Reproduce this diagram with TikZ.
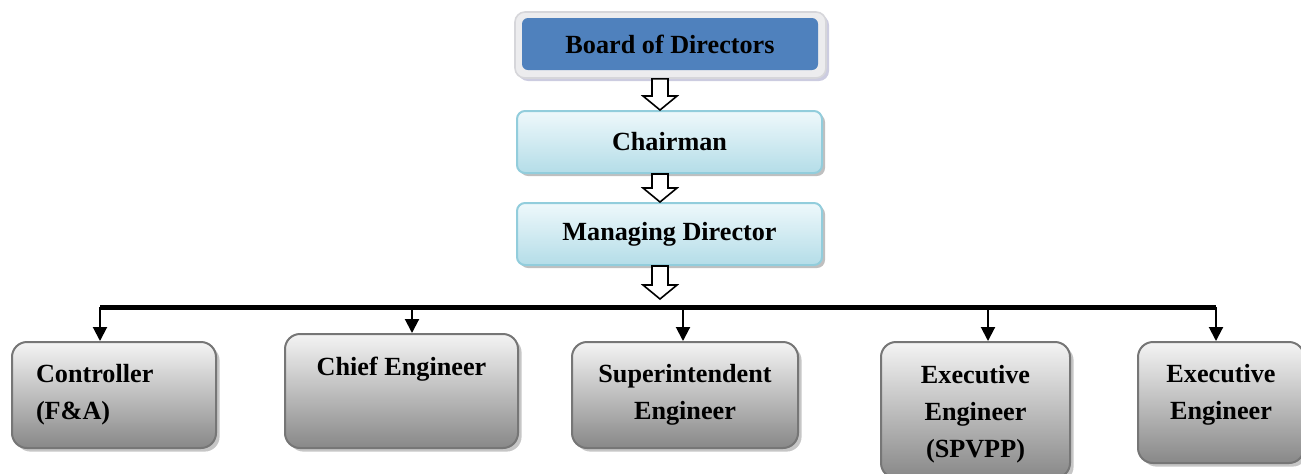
\documentclass[tikz,border=0pt]{standalone}
\usepackage{fontspec}
\setmainfont{Liberation Serif}
\usetikzlibrary{calc,shadows,arrows.meta}
\definecolor{bluefill}{RGB}{79,129,189}
\definecolor{frameg}{RGB}{236,236,238}
\definecolor{frameb}{RGB}{214,214,218}
\definecolor{cyantop}{RGB}{238,248,251}
\definecolor{cyanbot}{RGB}{180,221,232}
\definecolor{cyanline}{RGB}{146,205,220}
\definecolor{graytop}{RGB}{244,244,244}
\definecolor{graybot}{RGB}{136,136,136}
\definecolor{grayline}{RGB}{118,118,118}
\tikzset{
  txt/.style={font=\bfseries\fontsize{13.1}{18.5}\selectfont, align=center},
  topbox/.style={txt, rounded corners=4pt, draw=cyanline, line width=1pt,
     top color=cyantop, bottom color=cyanbot, minimum width=152.5pt, minimum height=31pt,
     drop shadow={shadow xshift=1.5pt, shadow yshift=-1.5pt, opacity=0.5}},
  lowbox/.style={txt, rounded corners=7.5pt, draw=grayline, line width=1pt,
     top color=graytop, bottom color=graybot,
     drop shadow={shadow xshift=1.8pt, shadow yshift=-1.8pt, opacity=0.45}},
  hollow/.style={draw=black, fill=white, line width=0.8pt, line join=miter},
  feed/.style={line width=1pt, -{Triangle[width=7pt,length=7pt]}},
}
\newcommand\hollowdown[2]{%
  \draw[hollow] let \p1=(#1), \p2=(#2) in
    (\x1-4pt,\y1) -- (\x1-4pt,\y2+7pt) -- (\x1-8.5pt,\y2+7pt) -- (\x1,\y2)
    -- (\x1+8.5pt,\y2+7pt) -- (\x1+4pt,\y2+7pt) -- (\x1+4pt,\y1) -- cycle;}
\begin{document}
\begin{tikzpicture}[x=0.5pt,y=-0.5pt]
\useasboundingbox (0,0) rectangle (1301,473);
% Board of Directors
\node[rounded corners=5pt, draw=frameb, fill=frameg, line width=0.8pt,
      minimum width=155.5pt, minimum height=33pt,
      drop shadow={shadow xshift=1.5pt, shadow yshift=-1.5pt, opacity=0.5, fill=black!60!blue!40}]
      (bframe) at (670.5,45) {};
\node[txt, rounded corners=3pt, fill=bluefill, minimum width=148pt, minimum height=26pt]
      (board) at (670,44) {Board of Directors};
\node[topbox] (chair) at (669.5,142) {Chairman};
\node[topbox] (md) at (669.5,234) {Managing Director};
\coordinate (ax) at (660,0);
\coordinate (mdtip) at (660,299);
\hollowdown{bframe.south -| ax}{chair.north -| ax}
\hollowdown{chair.south -| ax}{md.north -| ax}
\hollowdown{md.south -| ax}{mdtip}
% bar
\coordinate (barL) at (100,307);
\coordinate (barR) at (1216,307);
\draw[line width=2.5pt] (barL) -- (barR);
% lower boxes
\node[lowbox, align=left, text width=78pt, inner xsep=12pt, minimum width=102pt, minimum height=53pt]
      (c1) at (114,395) {Controller\\(F\&A)};
\node[lowbox, minimum width=116.5pt, minimum height=57pt,
      label={[txt, yshift=11pt]center:Chief Engineer}] (c2) at (401.5,391) {};
\node[lowbox, minimum width=113pt, minimum height=53pt] (c3) at (685,395) {Superintendent\\Engineer};
\node[lowbox, minimum width=94.5pt, minimum height=68pt,
      label={[txt, yshift=-2pt]center:{Executive\\Engineer\\(SPVPP)}}] (c4) at (975.5,410) {};
\node[lowbox, minimum width=83pt, minimum height=60.5pt,
      label={[txt, yshift=4pt]center:{Executive\\Engineer}}] (c5) at (1221,402.5) {};
% feeders
\coordinate (t1) at (100,307);
\coordinate (t2) at (412,307);
\coordinate (t3) at (683,307);
\coordinate (t4) at (988,307);
\coordinate (t5) at (1216,307);
\draw[feed] (t1) -- (t1 |- c1.north);
\draw[feed] (t2) -- (t2 |- c2.north);
\draw[feed] (t3) -- (t3 |- c3.north);
\draw[feed] (t4) -- (t4 |- c4.north);
\draw[feed] (t5) -- (t5 |- c5.north);
\end{tikzpicture}
\end{document}
